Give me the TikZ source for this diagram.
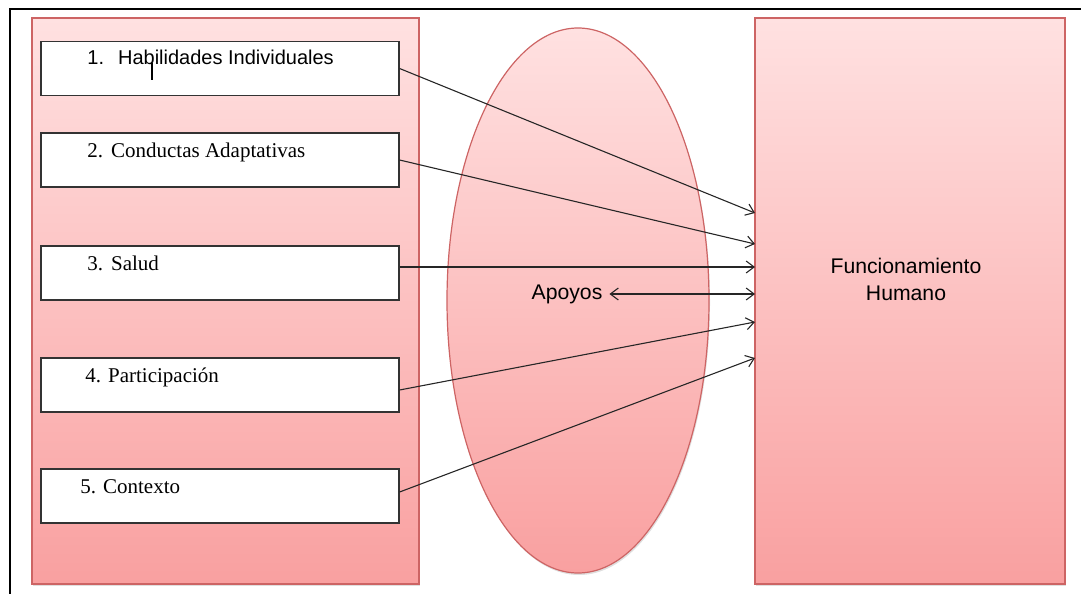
\documentclass[tikz,border=0pt]{standalone}
\usepackage{fontspec}
\setmainfont{Liberation Serif}
\setsansfont{Liberation Sans}
\usepackage{xcolor}
\usepackage{tikz}
\usetikzlibrary{shapes.geometric, arrows.meta, shadows}
\definecolor{pinktop}{RGB}{255,225,225}
\definecolor{pinkbot}{RGB}{249,160,160}
\definecolor{pinkline}{RGB}{205,100,100}
\tikzstyle{panel} = [
    draw=pinkline,
    line width=0.6pt,
    top color=pinktop,
    bottom color=pinkbot,
    drop shadow={shadow xshift=0.5pt, shadow yshift=-1pt, opacity=0.25}
]
\tikzstyle{item} = [
    draw=black!80,
    line width=0.6pt,
    fill=white,
    minimum width=179pt,
    minimum height=27pt,
    inner sep=0pt
]
\tikzstyle{arrow} = [
    line width=0.55pt,
    black!85,
    -{Straight Barb[length=4pt,width=6pt]}
]

\begin{document}
\begin{tikzpicture}[x=0.5pt,y=-0.5pt]
\useasboundingbox (0,0) rectangle (1081,594);

% frame
\draw[line width=1.3pt] (10,600) -- (10,9) -- (1090,9);

% panels
\node[panel, minimum width=193.5pt, minimum height=283pt] (dims) at (225.5,301) {};
\node[panel, minimum width=155pt, minimum height=283pt] (fh) at (910,301) {};
\node[panel, ellipse, minimum width=131pt, minimum height=272.5pt, inner sep=0pt] (ap) at (578,300.5) {};

% dimensions
\node[item] (b1) at (220,68.5) {};
\node[item] (b2) at (220,160) {};
\node[item] (b3) at (220,273) {};
\node[item] (b4) at (220,385) {};
\node[item] (b5) at (220,496) {};

\node[anchor=base west, inner sep=0pt, font=\sffamily\fontsize{10}{11}\selectfont] (t1) at (87,64) {1.\hspace{7pt}Habilidades Individuales};
\node[anchor=base west, inner sep=0pt, font=\fontsize{10.5}{12}\selectfont] (t2) at (87,157) {2.\hspace{4pt}Conductas Adaptativas};
\node[anchor=base west, inner sep=0pt, font=\fontsize{10.5}{12}\selectfont] (t3) at (87,270) {3.\hspace{4pt}Salud};
\node[anchor=base west, inner sep=0pt, font=\fontsize{10.5}{12}\selectfont] (t4) at (85,382) {4. Participación};
\node[anchor=base west, inner sep=0pt, font=\fontsize{10.5}{12}\selectfont] (t5) at (80,493) {5. Contexto};

% cursor mark
\draw[line width=1.4pt] (152,63) -- (152,80);

% labels
\node[font=\sffamily\fontsize{10.6}{13.5}\selectfont] (apl) at (567,294) {Apoyos};
\node[font=\sffamily\fontsize{10.6}{13.5}\selectfont, align=center] (fhl) at (906,279) {Funcionamiento\\Humano};

% targets
\coordinate (e1) at (755,213);
\coordinate (e2) at (755,244);
\coordinate (e3) at (755,267);
\coordinate (e0) at (755,294);
\coordinate (e4) at (755,322);
\coordinate (e5) at (755,358);

\draw[arrow] (b1.east) -- (e1);
\draw[arrow] (b2.east) -- (e2);
\draw[arrow] (b3.east |- e3) -- (e3);
\draw[arrow, {Straight Barb[length=4pt,width=6pt]}-{Straight Barb[length=4pt,width=6pt]}] (apl.east) -- (e0);
\draw[arrow] ([yshift=-2.5pt]b4.east) -- (e4);
\draw[arrow] ([yshift=2pt]b5.east) -- (e5);

\end{tikzpicture}
\end{document}
